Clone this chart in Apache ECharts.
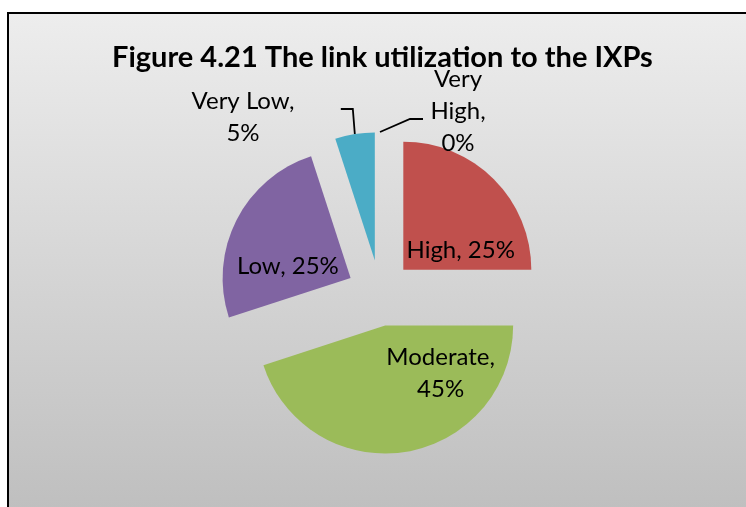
<!DOCTYPE html>
<html>
<head>
<meta charset="utf-8">
<script src="https://cdn.jsdelivr.net/npm/echarts@6/dist/echarts.min.js"></script>
<style>
html, body { margin: 0; padding: 0; background: #fff; }
#frame { position: absolute; left: 7px; top: 12px; width: 745px; height: 495px;
  border-left: 2px solid #000; border-top: 2px solid #000;
  background: linear-gradient(#ededed, #bfbfbf); }
#main { position: absolute; left: 0; top: 0; width: 746px; height: 507px; }
</style>
</head>
<body>
<div id="frame"></div>
<div id="main"></div>
<script>
var categories = ['Very High', 'High', 'Moderate', 'Low', 'Very Low'];
var percents = [0, 25, 45, 25, 5];
var labelTexts = ['Very\nHigh,\n0%', 'High, 25%', 'Moderate,\n45%', 'Low, 25%', 'Very Low,\n5%'];
var colors = ['#4F81BD', '#C0504D', '#9BBB59', '#8064A2', '#4BACC6'];

var explode = 33;

// label placement like the excel chart
var insideShift = {
    'High': [10, 28],
    'Moderate': [45, -19],
    'Low': [-3, 19]
};
// outside labels: where the text block centre goes, and the leader line bends
// (relative to where the line leaves the slice)
var outsideLabels = {
    'Very High': {cx: 458, cy: 111, bends: [[30, -13], [43, -13]]},
    'Very Low': {cx: 243, cy: 117, bends: [[-2, -25], [-14, -25]]}
};

// exploded offset of a slice (label rect comes before the offset is applied)
function sliceOffset(idx) {
    var total = 0, before = 0;
    for (var i = 0; i < percents.length; i++) {
        total += percents[i];
        if (i < idx) before += percents[i];
    }
    var mid = (before + percents[idx] / 2) / total * Math.PI * 2;
    return [explode * Math.sin(mid), -explode * Math.cos(mid)];
}

var pieData = [];
for (var i = 0; i < categories.length; i++) {
    var item = {
        name: categories[i],
        value: percents[i],
        selected: true,
        itemStyle: {color: colors[i]}
    };
    if (outsideLabels[categories[i]]) {
        item.label = {show: true, position: 'outside'};
        item.labelLine = {show: true, length: 20, length2: 10};
    }
    pieData.push(item);
}

var option = {
    animation: false,
    title: {
        text: 'Figure 4.21 The link utilization to the IXPs',
        left: 107,
        top: 38,
        textStyle: {
            fontFamily: 'Lato',
            fontWeight: 'bold',
            fontSize: 29,
            color: '#000'
        }
    },
    series: [{
        type: 'pie',
        center: [380, 293],
        radius: 128,
        startAngle: 90,
        clockwise: true,
        selectedMode: 'multiple',
        selectedOffset: explode,
        avoidLabelOverlap: false,
        data: pieData,
        label: {
            show: true,
            position: 'inside',
            fontFamily: 'Lato',
            fontSize: 24,
            lineHeight: 32,
            color: '#000',
            formatter: function (p) { return labelTexts[p.dataIndex]; }
        },
        labelLine: {
            lineStyle: {color: '#000', width: 1.8}
        },
        labelLayout: function (p) {
            var name = categories[p.dataIndex];
            var o = outsideLabels[name];
            if (o) {
                var r = p.labelRect;
                var off = sliceOffset(p.dataIndex);
                var p0 = p.labelLinePoints[0];
                var pts = [p0];
                for (var k = 0; k < o.bends.length; k++) {
                    pts.push([p0[0] + o.bends[k][0], p0[1] + o.bends[k][1]]);
                }
                // switching to centred text moves the block by half its width
                var alignFix = 0;
                if (p.align === 'right') alignFix = -r.width / 2;
                else if (p.align === 'left') alignFix = r.width / 2;
                return {
                    dx: o.cx - (r.x + r.width / 2) - off[0] + alignFix,
                    dy: o.cy - (r.y + r.height / 2) - off[1],
                    align: 'center',
                    labelLinePoints: pts
                };
            }
            var s = insideShift[name] || [0, 0];
            return {dx: s[0], dy: s[1]};
        },
        emphasis: {disabled: true}
    }]
};

var chart = echarts.init(document.getElementById('main'));
chart.setOption(option);
</script>
</body>
</html>
